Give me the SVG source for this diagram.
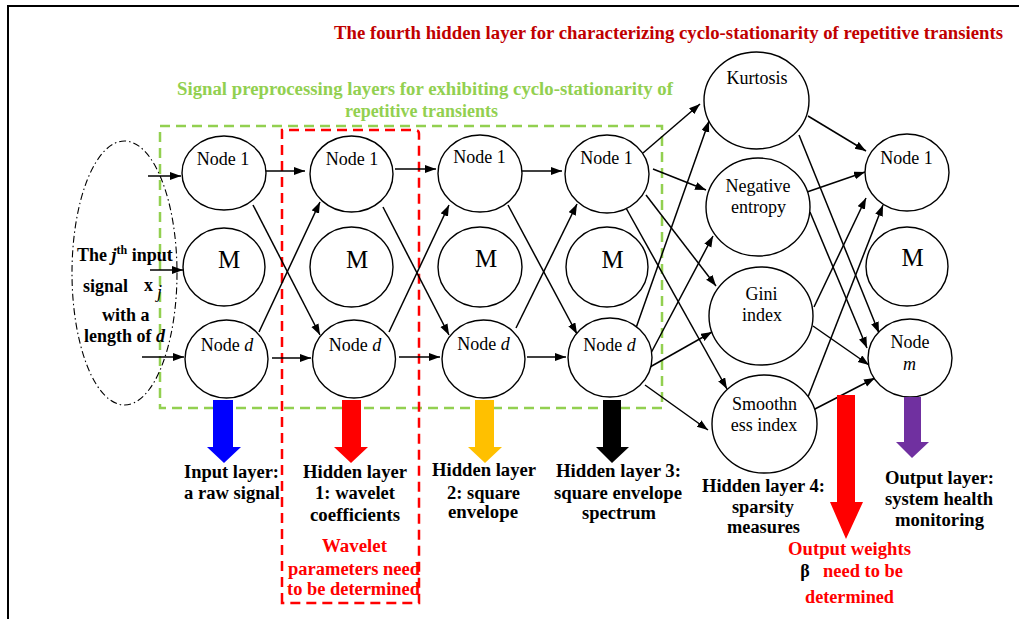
<svg xmlns="http://www.w3.org/2000/svg" width="1019" height="619" viewBox="0 0 1019 619">
<defs>
<marker id="ah" markerUnits="userSpaceOnUse" markerWidth="12" markerHeight="9" refX="11" refY="4" orient="auto">
<path d="M0,0 L11,4 L0,8 z" fill="#000"/>
</marker>
<style>
.n{fill:#fff;stroke:#000;stroke-width:1.4}
.t{font-family:"Liberation Serif","Times New Roman",serif;font-size:18px;fill:#000}
.m{font-family:"Liberation Serif","Times New Roman",serif;font-size:25px;fill:#000}
.b{font-family:"Liberation Serif","Times New Roman",serif;font-size:18px;font-weight:bold;fill:#000}
.c line{stroke:#000;stroke-width:1.5;marker-end:url(#ah)}
</style>
</defs>
<rect width="1019" height="619" fill="#fff"/>
<path d="M8,619 V6 H1019" fill="none" stroke="#000" stroke-width="2"/>

<!-- titles -->
<text x="334" y="39" class="b" style="fill:#C00000" textLength="669" lengthAdjust="spacingAndGlyphs">The fourth hidden layer for characterizing cyclo-stationarity of repetitive transients</text>
<text x="177" y="95" class="b" style="fill:#92D050" textLength="496" lengthAdjust="spacingAndGlyphs">Signal preprocessing layers for exhibiting cyclo-stationarity of</text>
<text x="345" y="117" class="b" style="fill:#92D050" textLength="153" lengthAdjust="spacingAndGlyphs">repetitive transients</text>

<!-- boxes -->
<g id="preprocessing-box">
<rect x="160" y="126" width="502" height="282" fill="none" stroke="#92D050" stroke-width="2.5" stroke-dasharray="10,6"/>
</g>
<g id="wavelet-box">
<path d="M282,603 V130 H415 Q419,130 419,134 V603 Z" fill="none" stroke="#FF0000" stroke-width="2.5" stroke-dasharray="10,6"/>
</g>
<g id="input-signal">
<ellipse cx="124.5" cy="273" rx="52.5" ry="132" fill="none" stroke="#000" stroke-width="1.1" stroke-dasharray="7,3,1.5,3"/>
<text x="77" y="261" class="b">The <tspan font-style="italic">j</tspan><tspan font-size="12" dy="-7">th</tspan><tspan dy="7"> input</tspan></text>
<text x="83" y="292" class="b">signal</text>
<text x="144" y="291" class="b" font-size="20">x</text>
<text x="157" y="298" class="t" font-size="12" font-style="italic">j</text>
<text x="102" y="321" class="b">with a</text>
<text x="84" y="342" class="b">length of <tspan font-style="italic">d</tspan></text>
</g>

<!-- connectors -->
<g id="connectors" class="c">
<line x1="148" y1="176" x2="181" y2="176"/>
<line x1="150" y1="270" x2="183" y2="270"/>
<line x1="142" y1="357" x2="184" y2="357"/>

<line x1="265" y1="171" x2="305" y2="171"/>
<line x1="253" y1="205" x2="320" y2="335"/>
<line x1="259" y1="332" x2="320" y2="202"/>
<line x1="272" y1="358" x2="311" y2="358"/>

<line x1="395" y1="169" x2="436" y2="169"/>
<line x1="383" y1="207" x2="449" y2="335"/>
<line x1="389" y1="332" x2="449" y2="205"/>
<line x1="399" y1="357" x2="440" y2="357"/>

<line x1="522" y1="171" x2="562" y2="171"/>
<line x1="508" y1="205" x2="577" y2="334"/>
<line x1="516" y1="328" x2="577" y2="204"/>
<line x1="527" y1="357" x2="566" y2="357"/>

<line x1="643" y1="153" x2="700" y2="104"/>
<line x1="653" y1="169" x2="706" y2="190"/>
<line x1="646" y1="195" x2="716" y2="286"/>
<line x1="626" y1="208" x2="727" y2="389"/>
<line x1="636" y1="328" x2="709" y2="121"/>
<line x1="651" y1="353" x2="713" y2="236"/>
<line x1="650" y1="367" x2="712" y2="332"/>
<line x1="645" y1="385" x2="708" y2="430"/>

<line x1="808" y1="116" x2="866" y2="151"/>
<line x1="799" y1="135" x2="879" y2="333"/>
<line x1="807" y1="192" x2="865" y2="172"/>
<line x1="810" y1="212" x2="867" y2="348"/>
<line x1="814" y1="307" x2="866" y2="198"/>
<line x1="813" y1="326" x2="869" y2="365"/>
<line x1="808" y1="397" x2="883" y2="205"/>
<line x1="813" y1="410" x2="875" y2="378"/>
</g>

<!-- input layer -->
<g id="in-node1"><ellipse class="n" cx="224" cy="173" rx="42" ry="37"/><text x="223" y="165" class="t" text-anchor="middle">Node 1</text></g>
<g id="in-nodeM"><ellipse class="n" cx="224" cy="267" rx="41" ry="39"/><text x="229" y="268" class="m" text-anchor="middle">M</text></g>
<g id="in-noded"><ellipse class="n" cx="226.5" cy="359" rx="41.5" ry="39"/><text x="227" y="351" class="t" text-anchor="middle">Node <tspan font-style="italic">d</tspan></text></g>

<!-- hidden 1 -->
<g id="h1-node1"><ellipse class="n" cx="351.5" cy="174" rx="41.5" ry="38"/><text x="352" y="165" class="t" text-anchor="middle">Node 1</text></g>
<g id="h1-nodeM"><ellipse class="n" cx="351.5" cy="267" rx="41.5" ry="40"/><text x="357" y="268" class="m" text-anchor="middle">M</text></g>
<g id="h1-noded"><ellipse class="n" cx="354" cy="359" rx="41.5" ry="39"/><text x="355" y="351" class="t" text-anchor="middle">Node <tspan font-style="italic">d</tspan></text></g>

<!-- hidden 2 -->
<g id="h2-node1"><ellipse class="n" cx="480" cy="173.5" rx="42" ry="38.5"/><text x="479.5" y="163" class="t" text-anchor="middle">Node 1</text></g>
<g id="h2-nodeM"><ellipse class="n" cx="480" cy="267" rx="42" ry="40"/><text x="486" y="267" class="m" text-anchor="middle">M</text></g>
<g id="h2-noded"><ellipse class="n" cx="483.5" cy="359" rx="41.5" ry="39"/><text x="483.5" y="350" class="t" text-anchor="middle">Node <tspan font-style="italic">d</tspan></text></g>

<!-- hidden 3 -->
<g id="h3-node1"><ellipse class="n" cx="607" cy="174" rx="42" ry="39"/><text x="606.5" y="164" class="t" text-anchor="middle">Node 1</text></g>
<g id="h3-nodeM"><ellipse class="n" cx="607" cy="267" rx="41" ry="40"/><text x="612.5" y="268" class="m" text-anchor="middle">M</text></g>
<g id="h3-noded"><ellipse class="n" cx="610" cy="357.5" rx="42" ry="39.5"/><text x="609.5" y="351" class="t" text-anchor="middle">Node <tspan font-style="italic">d</tspan></text></g>

<!-- hidden 4 -->
<g id="h4-kurtosis"><ellipse class="n" cx="756.5" cy="100.5" rx="52.5" ry="48.5"/><text x="757" y="84" class="t" text-anchor="middle">Kurtosis</text></g>
<g id="h4-negentropy"><ellipse class="n" cx="758" cy="207" rx="52" ry="49"/><text x="758" y="192" class="t" text-anchor="middle">Negative</text><text x="758.5" y="213" class="t" text-anchor="middle">entropy</text></g>
<g id="h4-gini"><ellipse class="n" cx="761" cy="316" rx="52" ry="49"/><text x="761.5" y="300" class="t" text-anchor="middle">Gini</text><text x="762" y="321" class="t" text-anchor="middle">index</text></g>
<g id="h4-smoothness"><ellipse class="n" cx="764.5" cy="424" rx="52.5" ry="49"/><text x="764.5" y="410" class="t" text-anchor="middle">Smoothn</text><text x="764" y="431" class="t" text-anchor="middle">ess index</text></g>

<!-- output -->
<g id="out-node1"><ellipse class="n" cx="907" cy="172.5" rx="42" ry="38.5"/><text x="906.5" y="164" class="t" text-anchor="middle">Node 1</text></g>
<g id="out-nodeM"><ellipse class="n" cx="907" cy="266.5" rx="41" ry="39.5"/><text x="912.5" y="266" class="m" text-anchor="middle">M</text></g>
<g id="out-nodem"><ellipse class="n" cx="910" cy="358" rx="42" ry="39"/><text x="910" y="348" class="t" text-anchor="middle">Node</text><text x="909.5" y="370" class="t" text-anchor="middle" font-style="italic">m</text></g>

<!-- fat arrows -->
<g id="layer-arrows">
<polygon points="213,400 233,400 233,447 241,447 224,463 207,447 213,447" fill="#0000FF"/>
<polygon points="342,400 361,400 361,447 368,447 351,463 334,447 342,447" fill="#FF0000"/>
<polygon points="475,400 494,400 494,447 502,447 485,463 468,447 475,447" fill="#FFC000"/>
<polygon points="603,400 621,400 621,447 629,447 612,463 596,447 603,447" fill="#000000"/>
<polygon points="837,395 855,395 855,502 863,502 846,539 830,502 837,502" fill="#FF0000"/>
<polygon points="904,397 921,397 921,442 929,442 912,458 896,442 904,442" fill="#7030A0"/>
</g>

<!-- layer labels -->
<g id="labels" class="b" text-anchor="middle">
<text x="231.5" y="478" class="b" textLength="95" lengthAdjust="spacingAndGlyphs">Input layer:</text>
<text x="232" y="499" class="b" textLength="96" lengthAdjust="spacingAndGlyphs">a raw signal</text>

<text x="355" y="478" class="b" textLength="104" lengthAdjust="spacingAndGlyphs">Hidden layer</text>
<text x="355" y="499" class="b" textLength="80" lengthAdjust="spacingAndGlyphs">1: wavelet</text>
<text x="355" y="521" class="b" textLength="90" lengthAdjust="spacingAndGlyphs">coefficients</text>

<text x="354.5" y="552" class="b" style="fill:#FF0000" textLength="65" lengthAdjust="spacingAndGlyphs">Wavelet</text>
<text x="354" y="575" class="b" style="fill:#FF0000" textLength="132" lengthAdjust="spacingAndGlyphs">parameters need</text>
<text x="353.5" y="595" class="b" style="fill:#FF0000" textLength="133" lengthAdjust="spacingAndGlyphs">to be determined</text>

<text x="484" y="476" class="b" textLength="104" lengthAdjust="spacingAndGlyphs">Hidden layer</text>
<text x="483.5" y="499" class="b" textLength="73" lengthAdjust="spacingAndGlyphs">2: square</text>
<text x="483" y="518" class="b" textLength="70" lengthAdjust="spacingAndGlyphs">envelope</text>

<text x="618.5" y="477" class="b" textLength="125" lengthAdjust="spacingAndGlyphs">Hidden layer 3:</text>
<text x="618" y="499" class="b" textLength="128" lengthAdjust="spacingAndGlyphs">square envelope</text>
<text x="619" y="519" class="b" textLength="74" lengthAdjust="spacingAndGlyphs">spectrum</text>

<text x="763.5" y="492" class="b" textLength="123" lengthAdjust="spacingAndGlyphs">Hidden layer 4:</text>
<text x="763" y="513" class="b" textLength="62" lengthAdjust="spacingAndGlyphs">sparsity</text>
<text x="763.5" y="533" class="b" textLength="73" lengthAdjust="spacingAndGlyphs">measures</text>

<text x="939.5" y="484" class="b" textLength="109" lengthAdjust="spacingAndGlyphs">Output layer:</text>
<text x="939" y="505" class="b" textLength="108" lengthAdjust="spacingAndGlyphs">system health</text>
<text x="939.5" y="526" class="b" textLength="89" lengthAdjust="spacingAndGlyphs">monitoring</text>

<text x="849.5" y="555" class="b" style="fill:#FF0000" textLength="123" lengthAdjust="spacingAndGlyphs">Output weights</text>
<text x="805" y="577" class="b">β</text>
<text x="863" y="577" class="b" style="fill:#FF0000" textLength="80" lengthAdjust="spacingAndGlyphs">need to be</text>
<text x="849.5" y="603" class="b" style="fill:#FF0000" textLength="89" lengthAdjust="spacingAndGlyphs">determined</text>
</g>
</svg>
